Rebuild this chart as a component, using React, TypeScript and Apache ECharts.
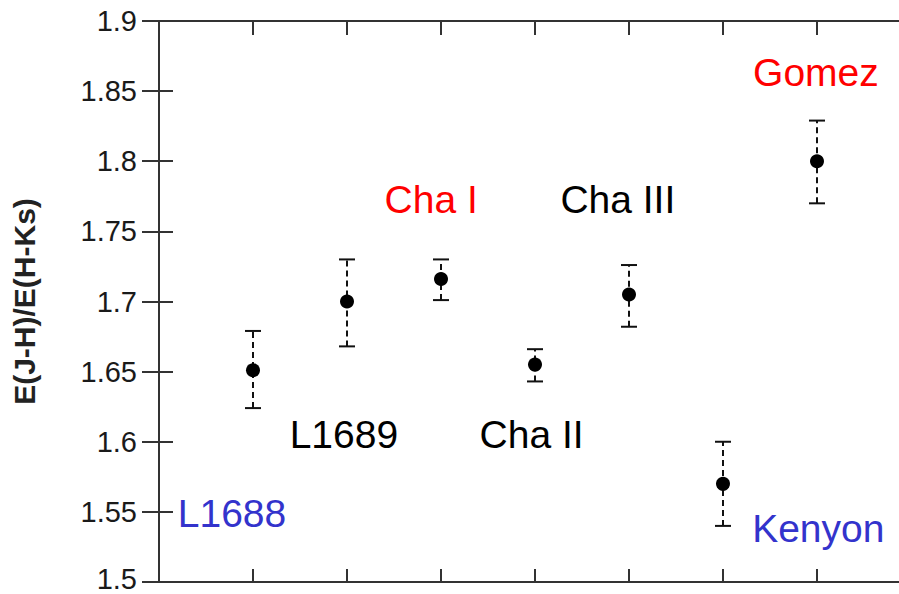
import React, { useEffect, useRef } from "react";
import * as echarts from "echarts";

const xPos = [1, 2, 3, 4, 5, 6, 7];
const values = [1.651, 1.7, 1.716, 1.655, 1.705, 1.57, 1.8];
const errLow = [1.624, 1.668, 1.701, 1.643, 1.682, 1.54, 1.77];
const errHigh = [1.679, 1.73, 1.73, 1.666, 1.726, 1.6, 1.829];

const labelNames = ["L1688", "L1689", "Cha I", "Cha II", "Cha III", "Kenyon", "Gomez"];
const labelX = [0.2, 1.39, 2.4, 3.41, 4.27, 6.31, 6.32];
const labelY = [1.5485, 1.6055, 1.7724, 1.6055, 1.7724, 1.5385, 1.863];
const labelColors = ["#3333cc", "#000000", "#ff0000", "#000000", "#000000", "#3333cc", "#ff0000"];

const yMin = 1.5;
const yMax = 1.9;
const yStep = 0.05;

const FONT = "'Liberation Sans', Arial, Helvetica, sans-serif";
const AXIS_COLOR = "#333333";

export default function App() {
  const ref = useRef<HTMLDivElement>(null);

  useEffect(() => {
    if (!ref.current) return;
    const chart = echarts.init(ref.current, undefined, { renderer: "svg" });

    const axisLine = { show: true, lineStyle: { color: AXIS_COLOR, width: 2 } };
    const tickStyle = { color: AXIS_COLOR, width: 2 };

    const option: any = {
      animation: false,
      backgroundColor: "#ffffff",
      grid: {
        left: 159,
        right: -12,
        top: 21,
        bottom: 12,
        containLabel: false,
        outerBoundsMode: "none",
      },
      xAxis: [
        {
          type: "value",
          min: 0,
          max: 8,
          interval: 1,
          position: "bottom",
          axisLine,
          axisTick: { show: true, inside: true, length: 13, lineStyle: tickStyle },
          axisLabel: { show: false },
          splitLine: { show: false },
        },
        {
          type: "value",
          min: 0,
          max: 8,
          interval: 1,
          position: "top",
          axisLine,
          axisTick: { show: true, inside: true, length: 14, lineStyle: tickStyle },
          axisLabel: { show: false },
          splitLine: { show: false },
        },
      ],
      yAxis: [
        {
          type: "value",
          min: yMin,
          max: yMax,
          interval: yStep,
          position: "left",
          axisLine,
          axisTick: { show: true, inside: true, length: 14, lineStyle: tickStyle },
          axisLabel: {
            show: true,
            showMinLabel: false,
            fontSize: 29,
            lineHeight: 21,
            fontFamily: FONT,
            color: "#1a1a1a",
            margin: 22,
            formatter: (v: number) => String(Number(v.toFixed(2))),
          },
          splitLine: { show: false },
          name: "E(J-H)/E(H-Ks)",
          nameLocation: "middle",
          nameGap: 120,
          nameRotate: 90,
          nameTextStyle: {
            fontSize: 30,
            fontWeight: "bold",
            fontFamily: FONT,
            color: "#222222",
          },
        },
        {
          type: "value",
          min: yMin,
          max: yMax,
          interval: yStep,
          position: "right",
          axisLine,
          axisTick: { show: true, inside: true, length: 17, lineStyle: tickStyle },
          axisLabel: { show: false },
          splitLine: { show: false },
        },
      ],
      graphic: [
        {
          type: "text",
          right: 899 - 137,
          bottom: 1,
          style: {
            text: String(yMin),
            fontSize: 29,
            lineHeight: 23,
            fontFamily: FONT,
            fill: "#1a1a1a",
          },
        },
      ],
      series: [
        {
          type: "custom",
          name: "errors",
          xAxisIndex: 0,
          yAxisIndex: 0,
          clip: false,
          data: xPos.map((x, i) => [x, errLow[i], errHigh[i]]),
          renderItem: (params: any, api: any) => {
            const x = api.value(0);
            const lo = api.coord([x, api.value(1)]);
            const hi = api.coord([x, api.value(2)]);
            const hw = 8;
            return {
              type: "group",
              children: [
                {
                  type: "line",
                  shape: { x1: lo[0], y1: lo[1], x2: hi[0], y2: hi[1] },
                  style: { stroke: "#111111", lineWidth: 2, lineDash: [6, 4] },
                },
                {
                  type: "line",
                  shape: { x1: hi[0] - hw, y1: hi[1], x2: hi[0] + hw, y2: hi[1] },
                  style: { stroke: "#111111", lineWidth: 2 },
                },
                {
                  type: "line",
                  shape: { x1: lo[0] - hw, y1: lo[1], x2: lo[0] + hw, y2: lo[1] },
                  style: { stroke: "#111111", lineWidth: 2 },
                },
              ],
            };
          },
          z: 2,
        },
        {
          type: "scatter",
          name: "points",
          xAxisIndex: 0,
          yAxisIndex: 0,
          symbol: "circle",
          symbolSize: 14,
          itemStyle: { color: "#000000", opacity: 1 },
          data: xPos.map((x, i) => [x, values[i]]),
          z: 3,
        },
        {
          type: "custom",
          name: "labels",
          xAxisIndex: 0,
          yAxisIndex: 0,
          clip: false,
          data: labelNames.map((n, i) => [labelX[i], labelY[i], i]),
          renderItem: (params: any, api: any) => {
            const p = api.coord([api.value(0), api.value(1)]);
            const i = api.value(2);
            return {
              type: "text",
              x: p[0],
              y: p[1],
              style: {
                text: labelNames[i],
                fill: labelColors[i],
                fontSize: 39,
                fontFamily: FONT,
                textAlign: "left",
                textVerticalAlign: "middle",
              },
            };
          },
          z: 4,
        },
      ],
    };

    chart.setOption(option);
    return () => chart.dispose();
  }, []);

  return (
    <div
      ref={ref}
      style={{ position: "fixed", left: 0, top: 0, width: 899, height: 594, background: "#fff" }}
    />
  );
}
